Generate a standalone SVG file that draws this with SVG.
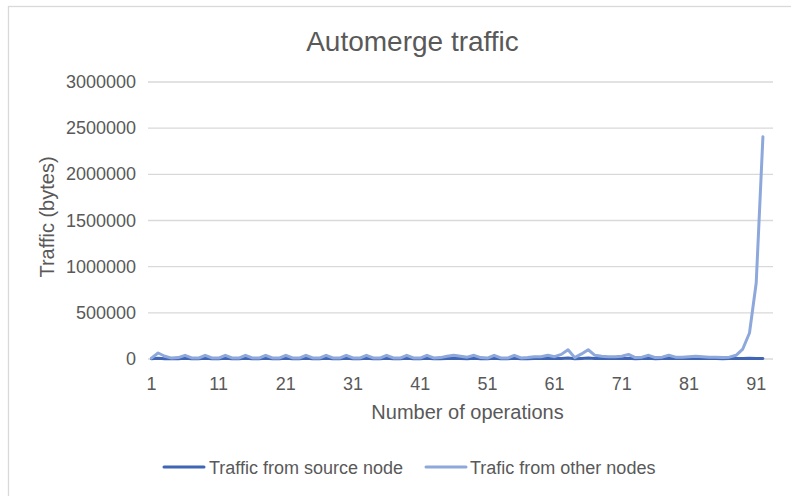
<svg xmlns="http://www.w3.org/2000/svg" width="791" height="496" viewBox="0 0 791 496">
<style>
text{font-family:"Liberation Sans",Arial,sans-serif;fill:#595959}
.tick{font-size:18px}
.ytick{font-size:18px;text-anchor:end}
.xtick{font-size:18px;text-anchor:middle}
.atitle{font-size:20px;text-anchor:middle}
.grid{stroke:#D9D9D9;stroke-width:1.3;fill:none}
.s1{stroke:#3F65B4;stroke-width:3;fill:none;stroke-linejoin:round;stroke-linecap:round}
.s2{stroke:#8EA8DB;stroke-width:3;fill:none;stroke-linejoin:round;stroke-linecap:round}
</style>
<rect x="0" y="0" width="791" height="496" fill="#FFFFFF"/>
<rect x="8.5" y="6.5" width="800" height="500" fill="none" stroke="#D9D9D9" stroke-width="1.3"/>
<g id="title"><text x="412.5" y="51" style="font-size:28px;text-anchor:middle">Automerge traffic</text></g>
<g id="gridlines">
<line class="grid" x1="148" y1="82" x2="773" y2="82"/>
<line class="grid" x1="148" y1="128.2" x2="773" y2="128.2"/>
<line class="grid" x1="148" y1="174.3" x2="773" y2="174.3"/>
<line class="grid" x1="148" y1="220.5" x2="773" y2="220.5"/>
<line class="grid" x1="148" y1="266.7" x2="773" y2="266.7"/>
<line class="grid" x1="148" y1="312.8" x2="773" y2="312.8"/>
<line class="grid" x1="148" y1="359" x2="773" y2="359"/>
</g>
<g id="y-axis">
<text class="ytick" x="136" y="88">3000000</text>
<text class="ytick" x="136" y="134.2">2500000</text>
<text class="ytick" x="136" y="180.3">2000000</text>
<text class="ytick" x="136" y="226.5">1500000</text>
<text class="ytick" x="136" y="272.7">1000000</text>
<text class="ytick" x="136" y="318.8">500000</text>
<text class="ytick" x="136" y="365">0</text>
<text class="atitle" transform="translate(54,217) rotate(-90)">Traffic (bytes)</text>
</g>
<g id="x-axis">
<text class="xtick" x="151.4" y="390">1</text>
<text class="xtick" x="218.6" y="390">11</text>
<text class="xtick" x="285.8" y="390">21</text>
<text class="xtick" x="353" y="390">31</text>
<text class="xtick" x="420.2" y="390">41</text>
<text class="xtick" x="487.4" y="390">51</text>
<text class="xtick" x="554.6" y="390">61</text>
<text class="xtick" x="621.8" y="390">71</text>
<text class="xtick" x="689" y="390">81</text>
<text class="xtick" x="756.2" y="390">91</text>
<text class="atitle" x="467.5" y="419">Number of operations</text>
</g>
<g id="series">
<polyline id="source-node" class="s1" points="151.4,358.7 158.1,358.3 164.8,358.7 171.6,358.7 178.3,358.7 185,358.3 191.7,358.7 198.4,358.7 205.2,358.3 211.9,358.7 218.6,358.7 225.3,358.3 232,358.7 238.8,358.7 245.5,358.3 252.2,358.7 258.9,358.7 265.6,358.3 272.4,358.7 279.1,358.7 285.8,358.3 292.5,358.7 299.2,358.7 306,358.3 312.7,358.7 319.4,358.7 326.1,358.3 332.8,358.7 339.6,358.7 346.3,358.3 353,358.7 359.7,358.7 366.4,358.3 373.2,358.7 379.9,358.7 386.6,358.3 393.3,358.7 400,358.7 406.8,358.3 413.5,358.7 420.2,358.7 426.9,358.3 433.6,358.7 440.4,358.7 447.1,358.5 453.8,358.3 460.5,358.5 467.2,358.7 474,358.3 480.7,358.7 487.4,358.7 494.1,358.3 500.8,358.7 507.6,358.7 514.3,358.3 521,358.7 527.7,358.7 534.4,358.5 541.2,358.5 547.9,358.3 554.6,358.5 561.3,358.4 568,358 574.8,358.7 581.5,358.4 588.2,358 594.9,358.5 601.6,358.5 608.4,358.6 615.1,358.6 621.8,358.5 628.5,358.3 635.2,358.7 642,358.6 648.7,358.3 655.4,358.7 662.1,358.6 668.8,358.3 675.6,358.6 682.3,358.6 689,358.5 695.7,358.4 702.4,358.5 709.2,358.6 715.9,358.6 722.6,358.7 729.3,358.6 736,358.5 742.8,358.4 749.5,358.3 756.2,358.5 762.9,358.6"/>
<polyline id="other-nodes" class="s2" points="151.4,358.08 158.12,353 164.84,356.23 171.56,358.08 178.28,357.61 185,355.31 191.72,357.89 198.44,358.08 205.16,355.31 211.88,357.89 218.6,358.08 225.32,355.31 232.04,357.89 238.76,358.08 245.48,355.31 252.2,357.89 258.92,358.08 265.64,355.31 272.36,357.89 279.08,358.08 285.8,355.31 292.52,357.89 299.24,358.08 305.96,355.31 312.68,357.89 319.4,358.08 326.12,355.31 332.84,357.89 339.56,358.08 346.28,355.31 353,357.89 359.72,358.08 366.44,355.31 373.16,357.89 379.88,358.08 386.6,355.31 393.32,357.89 400.04,358.08 406.76,355.31 413.48,357.89 420.2,358.08 426.92,355.31 433.64,357.89 440.36,357.61 447.08,356.23 453.8,355.31 460.52,356.23 467.24,357.15 473.96,355.31 480.68,357.61 487.4,358.08 494.12,355.31 500.84,357.89 507.56,358.08 514.28,355.31 521,357.89 527.72,357.61 534.44,356.69 541.16,356.69 547.88,355.31 554.6,356.69 561.32,354.38 568.04,349.77 574.76,357.61 581.48,353.92 588.2,349.77 594.92,355.31 601.64,356.23 608.36,356.69 615.08,356.69 621.8,356.23 628.52,354.38 635.24,357.61 641.96,357.15 648.68,355.31 655.4,357.61 662.12,357.15 668.84,355.31 675.56,357.15 682.28,357.15 689,356.69 695.72,356.23 702.44,356.69 709.16,357.15 715.88,357.15 722.6,357.61 729.32,357.15 736.04,355.31 742.76,349.03 749.48,332.96 756.2,283 762.92,136.74"/>
</g>
<g id="legend">
<line class="s1" x1="164" y1="467" x2="204" y2="467" stroke-linecap="butt"/>
<text class="tick" x="209" y="473.5">Traffic from source node</text>
<line class="s2" x1="426" y1="467" x2="466" y2="467" stroke-linecap="butt"/>
<text class="tick" x="470" y="473.5">Trafic from other nodes</text>
</g>
</svg>
